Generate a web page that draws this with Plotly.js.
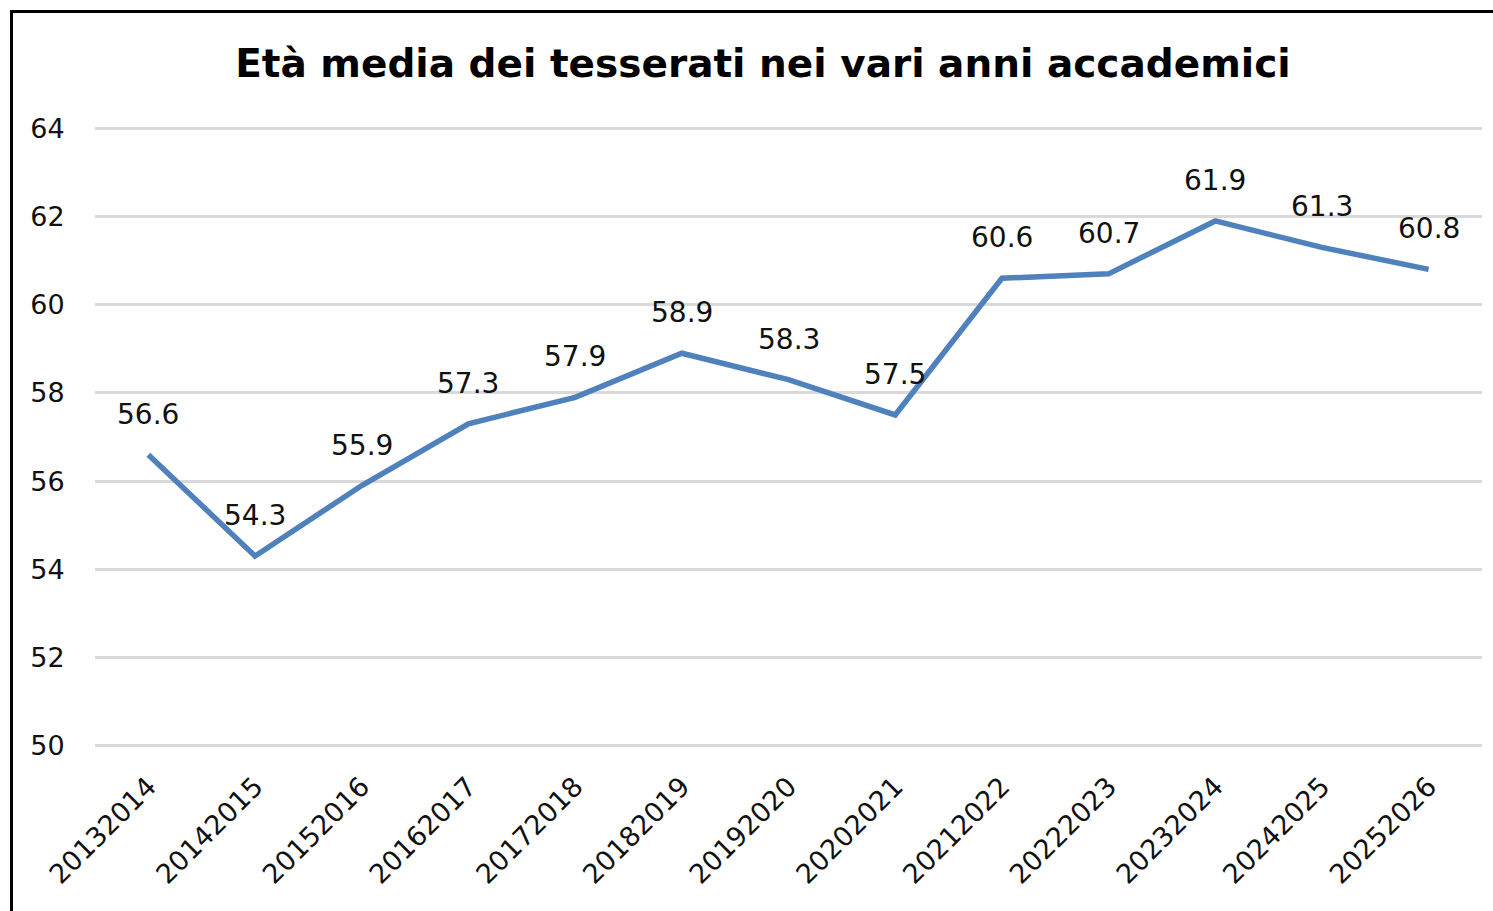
<!DOCTYPE html>
<html>
<head>
<meta charset="utf-8">
<script src="https://cdn.plot.ly/plotly-3.0.1.min.js"></script>
<style>
html,body{margin:0;padding:0;background:#fff;overflow:hidden;}
#chart{position:absolute;left:0;top:0;width:1493px;height:911px;}
#frame{position:absolute;left:10px;top:10px;width:1500px;height:920px;border-left:3px solid #000;border-top:3px solid #000;pointer-events:none;}
</style>
</head>
<body>
<div id="chart"></div>
<div id="frame"></div>
<script>
const categories = ["20132014","20142015","20152016","20162017","20172018","20182019","20192020","20202021","20212022","20222023","20232024","20242025","20252026"];
const values = [56.6, 54.3, 55.9, 57.3, 57.9, 58.9, 58.3, 57.5, 60.6, 60.7, 61.9, 61.3, 60.8];
const yTicks = [50, 52, 54, 56, 58, 60, 62, 64];
const chartTitle = "Età media dei tesserati nei vari anni accademici";

const FONT = "DejaVu Sans, Verdana, sans-serif";

const trace = {
  type: 'scatter',
  mode: 'lines',
  x: categories,
  y: values,
  line: {color: '#4f81bd', width: 5.5},
  hoverinfo: 'skip'
};

const labels = categories.map((c, i) => ({
  x: i, y: values[i], xref: 'x', yref: 'y',
  text: values[i].toFixed(1),
  showarrow: false,
  xanchor: 'center', yanchor: 'bottom',
  yshift: 22,
  font: {family: FONT, size: 28, color: '#111'}
}));

const layout = {
  width: 1493,
  height: 911,
  paper_bgcolor: '#fff',
  plot_bgcolor: '#fff',
  margin: {l: 95, r: 11, t: 127, b: 164},
  showlegend: false,
  annotations: labels,
  title: {
    text: '<b>' + chartTitle + '</b>',
    font: {family: FONT, size: 39, color: '#000'},
    x: 0.511, xref: 'container', xanchor: 'center',
    y: 0.931, yref: 'container', yanchor: 'middle'
  },
  xaxis: {
    type: 'category',
    range: [-0.5, categories.length - 0.5],
    showgrid: false,
    zeroline: false,
    showline: false,
    tickangle: -45,
    ticks: 'outside',
    ticklen: 12,
    tickcolor: 'rgba(0,0,0,0)',
    tickfont: {family: FONT, size: 27, color: '#111'},
    fixedrange: true
  },
  yaxis: {
    range: [49.97, 64.03],
    tickvals: yTicks,
    ticktext: yTicks.map(String),
    showgrid: true,
    gridcolor: '#d9d9d9',
    gridwidth: 3,
    zeroline: false,
    showline: false,
    ticks: 'outside',
    ticklen: 24,
    tickcolor: 'rgba(0,0,0,0)',
    tickfont: {family: FONT, size: 27, color: '#111'},
    fixedrange: true
  }
};

Plotly.newPlot('chart', [trace], layout, {displayModeBar: false, staticPlot: true});
</script>
</body>
</html>
